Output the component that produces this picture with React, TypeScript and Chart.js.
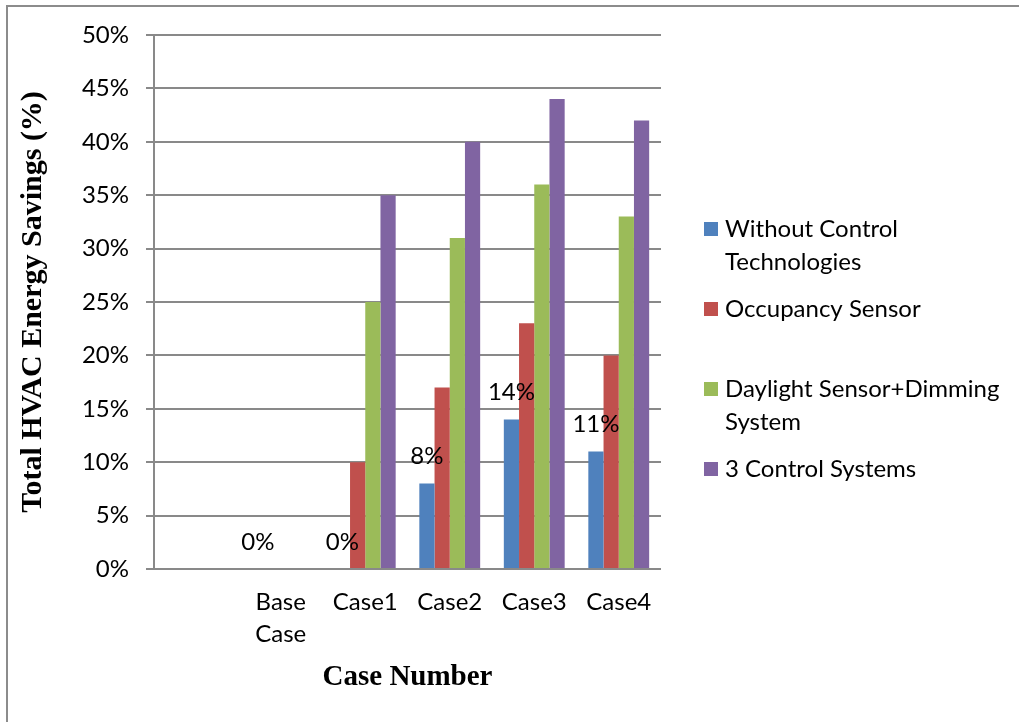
import { useEffect, useRef } from "react";
import { Chart, registerables } from "chart.js";

Chart.register(...registerables);

const categories: (string | string[])[] = ["", ["Base", "Case"], "Case1", "Case2", "Case3", "Case4"];
const seriesNames = [
  "Without Control Technologies",
  "Occupancy Sensor",
  "Daylight Sensor+Dimming System",
  "3 Control Systems",
];
const withoutControl = [null, 0, 0, 8, 14, 11];
const occupancySensor = [null, 0, 10, 17, 23, 20];
const daylightDimming = [null, 0, 25, 31, 36, 33];
const threeControl = [null, 0, 35, 40, 44, 42];
const yTicks = [0, 5, 10, 15, 20, 25, 30, 35, 40, 45, 50];
const legendLines: string[][] = [
  ["Without Control", "Technologies"],
  ["Occupancy Sensor", ""],
  ["Daylight Sensor+Dimming", "System"],
  ["3 Control Systems"],
];
const colors = ["#4F81BD", "#C0504D", "#9BBB59", "#8064A2"];

const W = 1019;
const H = 722;
const LABEL_FONT = "Lato";
const GRID = "#898989";

const dataLabelPlugin = {
  id: "blueDataLabels",
  afterDatasetsDraw(chart: any) {
    const meta = chart.getDatasetMeta(0);
    const ctx = chart.ctx;
    ctx.save();
    ctx.font = `24px ${LABEL_FONT}`;
    ctx.fillStyle = "#000";
    ctx.textAlign = "center";
    ctx.textBaseline = "middle";
    meta.data.forEach((bar: any, i: number) => {
      const v = withoutControl[i];
      if (v === null || v === undefined) return;
      ctx.fillText(`${v}%`, bar.x, bar.y - 27);
    });
    ctx.restore();
  },
};

const sideLegendPlugin = {
  id: "sideLegend",
  afterDraw(chart: any) {
    const ctx = chart.ctx;
    ctx.save();
    ctx.font = `24px ${LABEL_FONT}`;
    ctx.textAlign = "left";
    ctx.textBaseline = "middle";
    let y = 229;
    legendLines.forEach((lines, i) => {
      ctx.fillStyle = chart.data.datasets[i].backgroundColor;
      ctx.fillRect(704, y - 7, 14, 14);
      ctx.fillStyle = "#000";
      lines.forEach((t, j) => ctx.fillText(t, 725, y + j * 33));
      y += lines.length * 33 + 14;
    });
    ctx.restore();
  },
};

export default function App() {
  const ref = useRef<HTMLCanvasElement | null>(null);

  useEffect(() => {
    if (!ref.current) return;
    const seriesValues = [withoutControl, occupancySensor, daylightDimming, threeControl];
    const chart = new Chart(ref.current, {
      type: "bar",
      data: {
        labels: categories,
        datasets: seriesValues.map((vals, i) => ({
          label: seriesNames[i],
          data: vals,
          backgroundColor: colors[i],
          borderWidth: 0,
          categoryPercentage: 0.72,
          barPercentage: 1.0,
        })),
      },
      options: {
        responsive: false,
        animation: false,
        layout: { padding: { top: 35, right: W - 661, bottom: 0, left: 0 } },
        plugins: {
          legend: { display: false },
          tooltip: { enabled: false },
        },
        scales: {
          x: {
            grid: { display: false, drawTicks: false },
            border: { display: false },
            ticks: {
              font: { family: LABEL_FONT, size: 24, lineHeight: 32 / 24 },
              color: "#000",
              padding: 17,
              maxRotation: 0,
              minRotation: 0,
              autoSkip: false,
            },
            title: {
              display: true,
              text: "Case Number",
              color: "#000",
              font: { family: "Liberation Serif", size: 29, weight: "bold", lineHeight: 1.2 },
              padding: { top: 0, bottom: 27 },
            },
            afterFit: (s: any) => {
              s.height = H - 569;
            },
          },
          y: {
            min: 0,
            max: 50,
            afterBuildTicks: (s: any) => {
              s.ticks = yTicks.map((v) => ({ value: v }));
            },
            ticks: {
              callback: (v: any) => `${v}%`,
              font: { family: LABEL_FONT, size: 24 },
              color: "#000",
              padding: 17,
            },
            grid: { color: GRID, lineWidth: 2, tickLength: 8, tickColor: GRID },
            border: { color: GRID, width: 2 },
            title: {
              display: true,
              text: "Total HVAC Energy Savings (%)",
              color: "#000",
              font: { family: "Liberation Serif", size: 30, weight: "bold", lineHeight: 1.2 },
              padding: { top: 15, bottom: 0 },
            },
            afterFit: (s: any) => {
              s.width = 154;
            },
          },
        },
      },
      plugins: [dataLabelPlugin, sideLegendPlugin],
    } as any);
    const fonts = (document as any).fonts;
    if (fonts && fonts.load) {
      Promise.all([fonts.load(`24px ${LABEL_FONT}`), fonts.load("bold 30px 'Liberation Serif'")])
        .then(() => chart.update())
        .catch(() => {});
    }
    return () => chart.destroy();
  }, []);

  return (
    <div>
      <div
        style={{
          position: "fixed",
          left: 6,
          top: 5,
          width: 1100,
          height: 800,
          borderTop: "2px solid #8c8c8c",
          borderLeft: "2px solid #8c8c8c",
          boxSizing: "border-box",
        }}
      />
      <canvas
        ref={ref}
        width={W}
        height={H}
        style={{ position: "fixed", left: 0, top: 0, display: "block", width: W, height: H }}
      />
    </div>
  );
}
